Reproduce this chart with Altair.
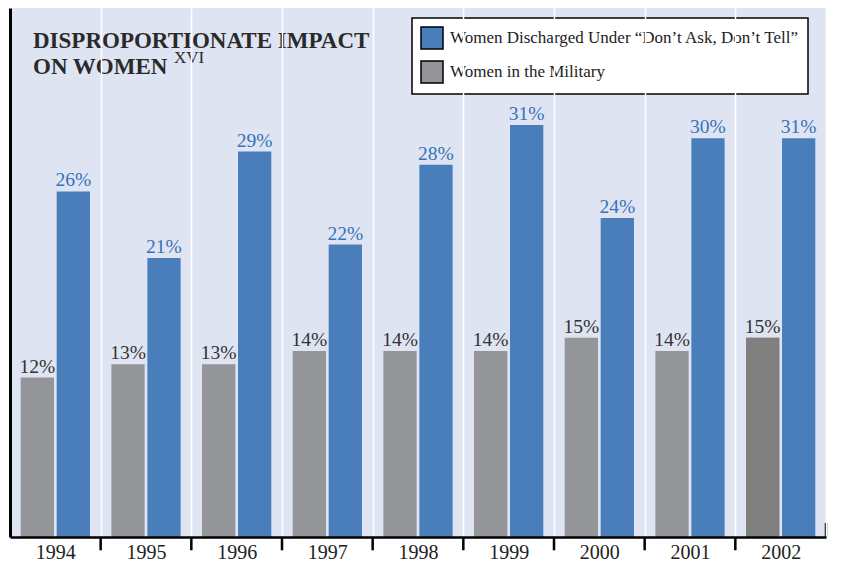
import altair as alt
import pandas as pd

years = ["1994", "1995", "1996", "1997", "1998", "1999", "2000", "2001", "2002"]
military = [12, 13, 13, 14, 14, 14, 15, 14, 15]
discharged = [26, 21, 29, 22, 28, 31, 24, 30, 30]
military_labels = ["12%", "13%", "13%", "14%", "14%", "14%", "15%", "14%", "15%"]
discharged_labels = ["26%", "21%", "29%", "22%", "28%", "31%", "24%", "30%", "31%"]
highlight_year = "2002"

SER_DIS = "Women Discharged Under \u201cDon\u2019t Ask, Don\u2019t Tell\u201d"
SER_MIL = "Women in the Military"
title_line1 = "DISPROPORTIONATE IMPACT"
title_line2 = "ON WOMEN"
title_sup = "XVI"

rows = []
for y, m, ml, d, dl in zip(years, military, military_labels, discharged, discharged_labels):
    rows.append({"year": y, "series": SER_MIL, "value": m, "label": ml})
    rows.append({"year": y, "series": SER_DIS, "value": d, "label": dl})
df = pd.DataFrame(rows)

SERIF = "Liberation Serif"
BLUE = "#4a7ebb"
GRAY = "#939598"
DARKGRAY = "#808080"
BG = "#dfe4f2"

x_enc = alt.X(
    "year:N",
    sort=years,
    scale=alt.Scale(paddingInner=0, paddingOuter=0),
    axis=alt.Axis(
        title=None, labelAngle=0, labelFont=SERIF, labelFontSize=20, labelColor="#222222",
        labelPadding=5, ticks=False, grid=True, gridColor="white", gridWidth=1.5,
        tickBand="extent", domainColor="black", domainWidth=2.5, zindex=1,
    ),
)
xoff_enc = alt.XOffset(
    "series:N",
    scale=alt.Scale(domain=[SER_MIL, SER_DIS], paddingInner=0.075, paddingOuter=0.297),
)
y_enc = alt.Y(
    "value:Q",
    scale=alt.Scale(domain=[0, 39.8], nice=False, zero=True),
    axis=alt.Axis(title=None, labels=False, ticks=False, grid=False,
                  domainColor="black", domainWidth=3, zindex=1),
)

base = alt.Chart(df)

bars = base.mark_bar().encode(
    x=x_enc,
    xOffset=xoff_enc,
    y=y_enc,
    color=alt.Color(
        "series:N",
        scale=alt.Scale(domain=[SER_DIS, SER_MIL], range=[BLUE, GRAY]),
        legend=alt.Legend(title=None),
    ),
)

highlight = base.mark_bar(color=DARKGRAY).encode(
    x=x_enc, xOffset=xoff_enc, y=y_enc
).transform_filter(
    (alt.datum.year == highlight_year) & (alt.datum.series == SER_MIL)
)

lab_blue = base.mark_text(
    font=SERIF, fontSize=19.5, color="#3573ba", baseline="alphabetic", dy=-5
).encode(x=x_enc, xOffset=xoff_enc, y=y_enc, text="label:N").transform_filter(
    alt.datum.series == SER_DIS
)
lab_gray = base.mark_text(
    font=SERIF, fontSize=19.5, color="#333333", baseline="alphabetic", dy=-5
).encode(x=x_enc, xOffset=xoff_enc, y=y_enc, text="label:N").transform_filter(
    alt.datum.series == SER_MIL
)

tick_df = pd.DataFrame({"year": years[1:]})
ticks = alt.Chart(tick_df).mark_rule(color="black", strokeWidth=2.5).encode(
    x=alt.X("year:N", sort=years, bandPosition=0),
    y=alt.datum(0),
    y2=alt.datum(-1),
)
end_df = pd.DataFrame({"year": [years[-1]]})
end_tick = alt.Chart(end_df).mark_rule(color="black", strokeWidth=2.5).encode(
    x=alt.X("year:N", sort=years, bandPosition=1),
    y=alt.datum(0),
    y2=alt.datum(1.05),
)

t1 = alt.Chart(pd.DataFrame({"t": [title_line1]})).mark_text(
    font=SERIF, fontSize=23, fontWeight="bold", color="#2a2a2a", align="left", baseline="alphabetic"
).encode(x=alt.value(23), y=alt.value(40), text="t:N")
t2 = alt.Chart(pd.DataFrame({"t": [title_line2]})).mark_text(
    font=SERIF, fontSize=23, fontWeight="bold", color="#2a2a2a", align="left", baseline="alphabetic"
).encode(x=alt.value(23), y=alt.value(66), text="t:N")
t3 = alt.Chart(pd.DataFrame({"t": [title_sup]})).mark_text(
    font=SERIF, fontSize=17, color="#2a2a2a", align="left", baseline="alphabetic"
).encode(x=alt.value(164), y=alt.value(55), text="t:N")

chart = alt.layer(bars, highlight, lab_gray, lab_blue, ticks, end_tick, t1, t2, t3).properties(
    width=816, height=529,
    autosize=alt.AutoSizeParams(type="none"),
    padding={"left": 2, "top": 0, "right": 7, "bottom": 27},
).configure_view(
    fill=BG, stroke=None
).configure_legend(
    orient="none", legendX=402, legendY=10, direction="vertical",
    fillColor="white", strokeColor="black", strokeWidth=1.5, padding=8,
    symbolType="square", symbolSize=484, symbolStrokeColor="black", symbolStrokeWidth=1.5,
    labelFont=SERIF, labelFontSize=17, labelColor="#222222", labelOffset=6,
    rowPadding=6, labelLimit=500,
)

chart.save("out.html", embed_options={"renderer": "svg", "actions": False})
